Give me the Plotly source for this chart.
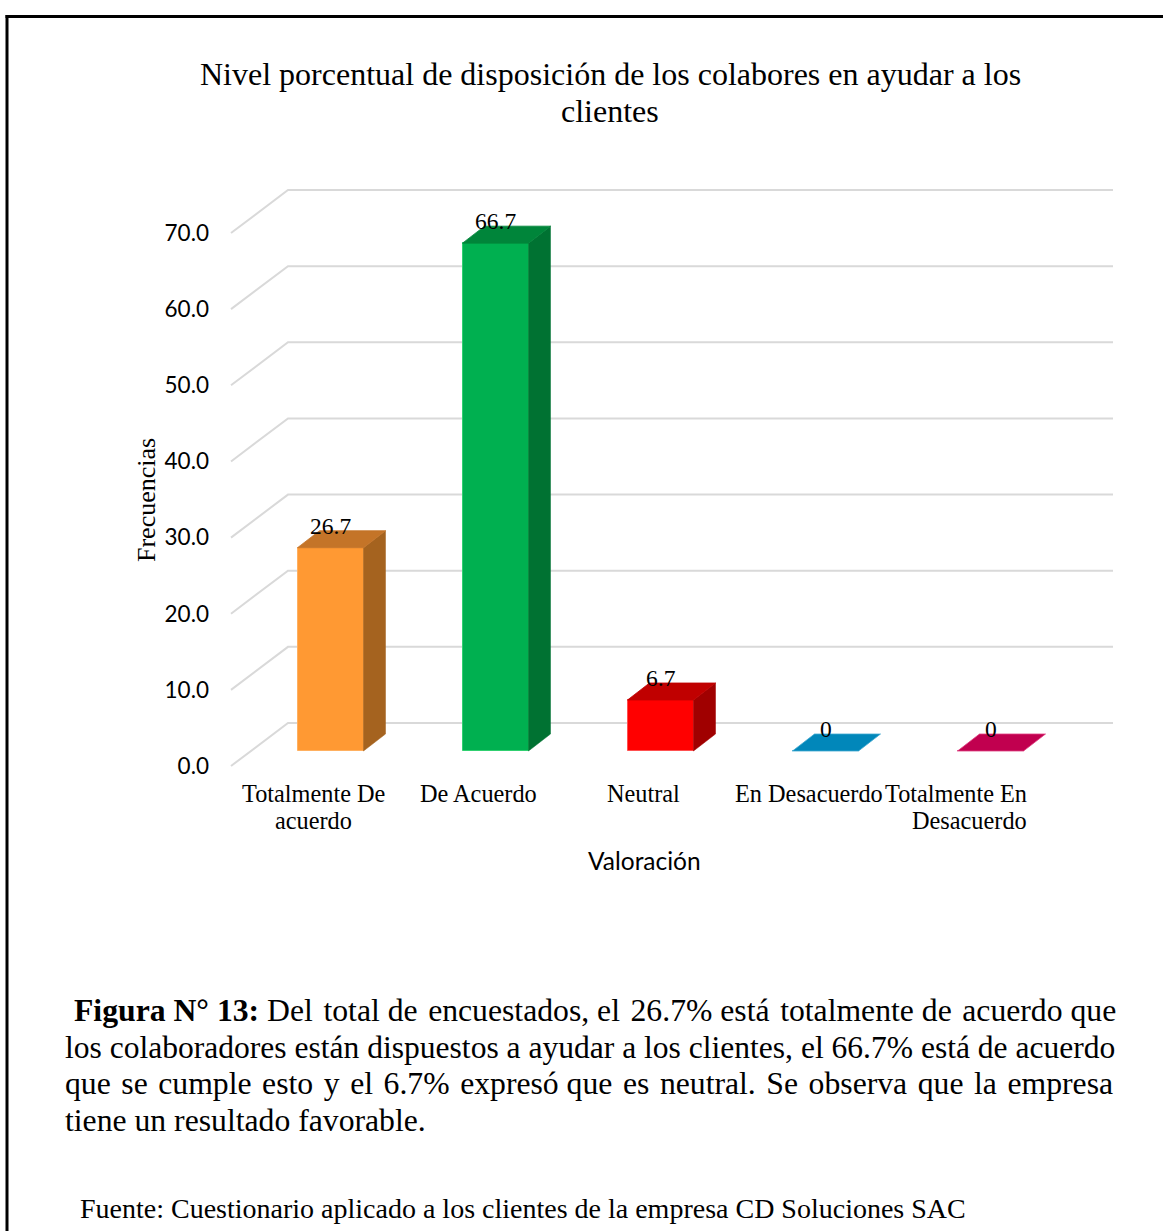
import plotly.graph_objects as go

# ---------------- data ----------------
categories = ["Totalmente De<br>acuerdo", "De Acuerdo", "Neutral", "En Desacuerdo", "Totalmente En<br>Desacuerdo"]
values = [26.7, 66.7, 6.7, 0, 0]
value_labels = ["26.7", "66.7", "6.7", "0", "0"]
y_ticks = [0, 10, 20, 30, 40, 50, 60, 70]
y_tick_text = ["0.0", "10.0", "20.0", "30.0", "40.0", "50.0", "60.0", "70.0"]

front_colors = ["#FF9933", "#00B050", "#FF0000", "#0088BB", "#C0004F"]
side_colors = ["#A5631F", "#007232", "#A00000", "#005E80", "#85003A"]
top_colors = ["#C47428", "#00853A", "#C00000", "#0187BA", "#C1004F"]
edge_colors = ["#FFB060", "#30D070", "#FF5050", "#40A8D0", "#E04080"]

title_text = "Nivel porcentual de disposición de los colabores en ayudar a los<br>clientes"
x_title = "Valoración"
y_title = "Frecuencias"
caption_prefix = "<b>Figura N° 13:</b> "
caption_lines = [
    "Del total de encuestados, el 26.7% está totalmente de acuerdo que",
    "los colaboradores están dispuestos a ayudar a los clientes, el 66.7% está de acuerdo",
    "que se cumple esto y el 6.7% expresó que es neutral. Se observa que la empresa",
    "tiene un resultado favorable.",
]
source_text = "Fuente: Cuestionario aplicado a los clientes de la empresa CD Soluciones SAC"

# ---------------- layout geometry ----------------
W, H = 1163, 1231
L, R, T, B = 215, 33, 180, 451
PW, PH = W - L - R, H - T - B
PX_X = 165.0           # px per category
PX_Y = 7.614           # px per value unit
X0_PX = 231            # pixel of x=-0.5
xmin = -0.5 - (X0_PX - L) / PX_X
xmax = xmin + PW / PX_X
ymin = -((H - B) - 766) / PX_Y
ymax = ymin + PH / PX_Y

# 3-D projection offsets (in data units)
WX, WY = 57 / PX_X, 43 / PX_Y      # back wall depth
FX, FY = 17 / PX_X, 15 / PX_Y      # bar front-face offset
BX, BY = 22 / PX_X, 17 / PX_Y      # bar depth
HW = 0.2                            # half bar width
n = len(categories)


def fx(px):
    return (px - L) / PW


def fy(py):
    return (H - B - py) / PH


def spread(text, extra):
    """add hair spaces to `extra` word gaps, evenly spread (imitates justified text)"""
    words = text.split(" ")
    gaps = len(words) - 1
    if extra <= 0 or gaps <= 0:
        return text
    chosen = set(round((k + 0.5) * gaps / extra - 0.5) for k in range(extra))
    out = words[0]
    for g in range(gaps):
        out += (" \u200a" if g in chosen else " ") + words[g + 1]
    return out


SERIF = "Liberation Serif"
SANS = "Lato"

fig = go.Figure()

# front faces as real bars
fig.add_trace(go.Bar(
    x=[i + FX for i in range(n)], y=values, base=[FY] * n, width=2 * HW,
    marker=dict(color=front_colors, line=dict(color=edge_colors, width=1)),
    hoverinfo="skip", showlegend=False,
))

# side and top faces + value labels
for i, v in enumerate(values):
    xl, xr = i + FX - HW, i + FX + HW
    yb, yt = FY, FY + v
    if v > 0:
        fig.add_trace(go.Scatter(
            x=[xr, xr + BX, xr + BX, xr, xr], y=[yb, yb + BY, yt + BY, yt, yb],
            fill="toself", fillcolor=side_colors[i], mode="lines",
            line=dict(color=side_colors[i], width=0.5), hoverinfo="skip", showlegend=False))
    fig.add_trace(go.Scatter(
        x=[xl, xr, xr + BX, xl + BX, xl], y=[yt, yt, yt + BY, yt + BY, yt],
        fill="toself", fillcolor=top_colors[i], mode="lines",
        line=dict(color=edge_colors[i] if v == 0 else top_colors[i], width=0.8),
        hoverinfo="skip", showlegend=False))
    fig.add_annotation(x=i + FX, y=yt + BY, xref="x", yref="y", text=value_labels[i],
                       showarrow=False, yanchor="bottom", yshift=-10,
                       font=dict(family=SERIF, size=23.5, color="#000000"))

# gridlines (side wall diagonal + back wall)
shapes = []
for v in y_ticks:
    shapes.append(dict(type="path", xref="x", yref="y", layer="below",
                       path=f"M {-0.5},{v} L {-0.5 + WX},{v + WY} L {n - 0.5 + WX},{v + WY}",
                       line=dict(color="#D9D9D9", width=2)))

# frame
shapes.append(dict(type="line", xref="paper", yref="paper", x0=fx(5.5), x1=fx(W + 5), y0=fy(16.5), y1=fy(16.5),
                   line=dict(color="#000000", width=3)))
shapes.append(dict(type="line", xref="paper", yref="paper", x0=fx(7), x1=fx(7), y0=fy(15), y1=fy(H + 5),
                   line=dict(color="#000000", width=3)))

# category labels (each line placed separately for tight line spacing)
for i, c in enumerate(categories):
    for k, part in enumerate(c.split("<br>")):
        if i == n - 1:
            fig.add_annotation(x=i + 0.336, y=fy(793 + 27 * k), xref="x", yref="paper", text=part,
                               showarrow=False, xanchor="right", yanchor="middle",
                               font=dict(family=SERIF, size=24.3, color="#000000"))
        else:
            fig.add_annotation(x=i, y=fy(793 + 27 * k), xref="x", yref="paper", text=part,
                               showarrow=False, xanchor="center", yanchor="middle",
                               font=dict(family=SERIF, size=24.3, color="#000000"))

# chart title
for k, part in enumerate(title_text.split("<br>")):
    fig.add_annotation(x=fx(610), y=fy(74 + 37 * k), xref="paper", yref="paper", text=part, showarrow=False,
                       xanchor="center", yanchor="middle",
                       font=dict(family=SERIF, size=32, color="#000000"))

# axis titles
fig.add_annotation(x=fx(644), y=fy(860), xref="paper", yref="paper", text=x_title, showarrow=False,
                   xanchor="center", yanchor="middle",
                   font=dict(family=SANS, size=24.5, color="#000000"))
fig.add_annotation(x=fx(146), y=fy(500), xref="paper", yref="paper", text=y_title, showarrow=False,
                   textangle=-90, xanchor="center", yanchor="middle",
                   font=dict(family=SERIF, size=26, color="#000000"))

# caption (justified look via a few hair spaces)
cap_y = [1010, 1047, 1083, 1120]
cap_x = [72, 63, 63, 63]
cap_extra = [5, 0, 14, 0]
cap_size = [31.7, 31.55, 31.7, 31.7]
for idx, line in enumerate(caption_lines):
    txt = spread(line, cap_extra[idx])
    if idx == 0:
        txt = caption_prefix + txt
    fig.add_annotation(x=fx(cap_x[idx]), y=fy(cap_y[idx]), xref="paper", yref="paper", text=txt,
                       showarrow=False, xanchor="left", yanchor="middle", align="left",
                       font=dict(family=SERIF, size=cap_size[idx], color="#000000"))
fig.add_annotation(x=fx(78), y=fy(1208), xref="paper", yref="paper", text=source_text, showarrow=False,
                   xanchor="left", yanchor="middle", align="left",
                   font=dict(family=SERIF, size=28, color="#000000"))

fig.update_layout(
    width=W, height=H,
    margin=dict(l=L, r=R, t=T, b=B, autoexpand=False),
    paper_bgcolor="#FFFFFF", plot_bgcolor="rgba(0,0,0,0)",
    shapes=shapes, showlegend=False, bargap=0,
    xaxis=dict(range=[xmin, xmax], showgrid=False, zeroline=False, showline=False,
               showticklabels=False, ticks="", fixedrange=True),
    yaxis=dict(range=[ymin, ymax], showgrid=False, zeroline=False, showline=False,
               tickmode="array", tickvals=y_ticks, ticktext=y_tick_text, ticks="",
               ticklabelstandoff=5,
               tickfont=dict(family=SANS, size=22.5, color="#000000"), fixedrange=True),
)

fig.write_html("out.html", config={"displayModeBar": False},
               post_script="document.body.style.margin='0';document.body.style.padding='0';")
